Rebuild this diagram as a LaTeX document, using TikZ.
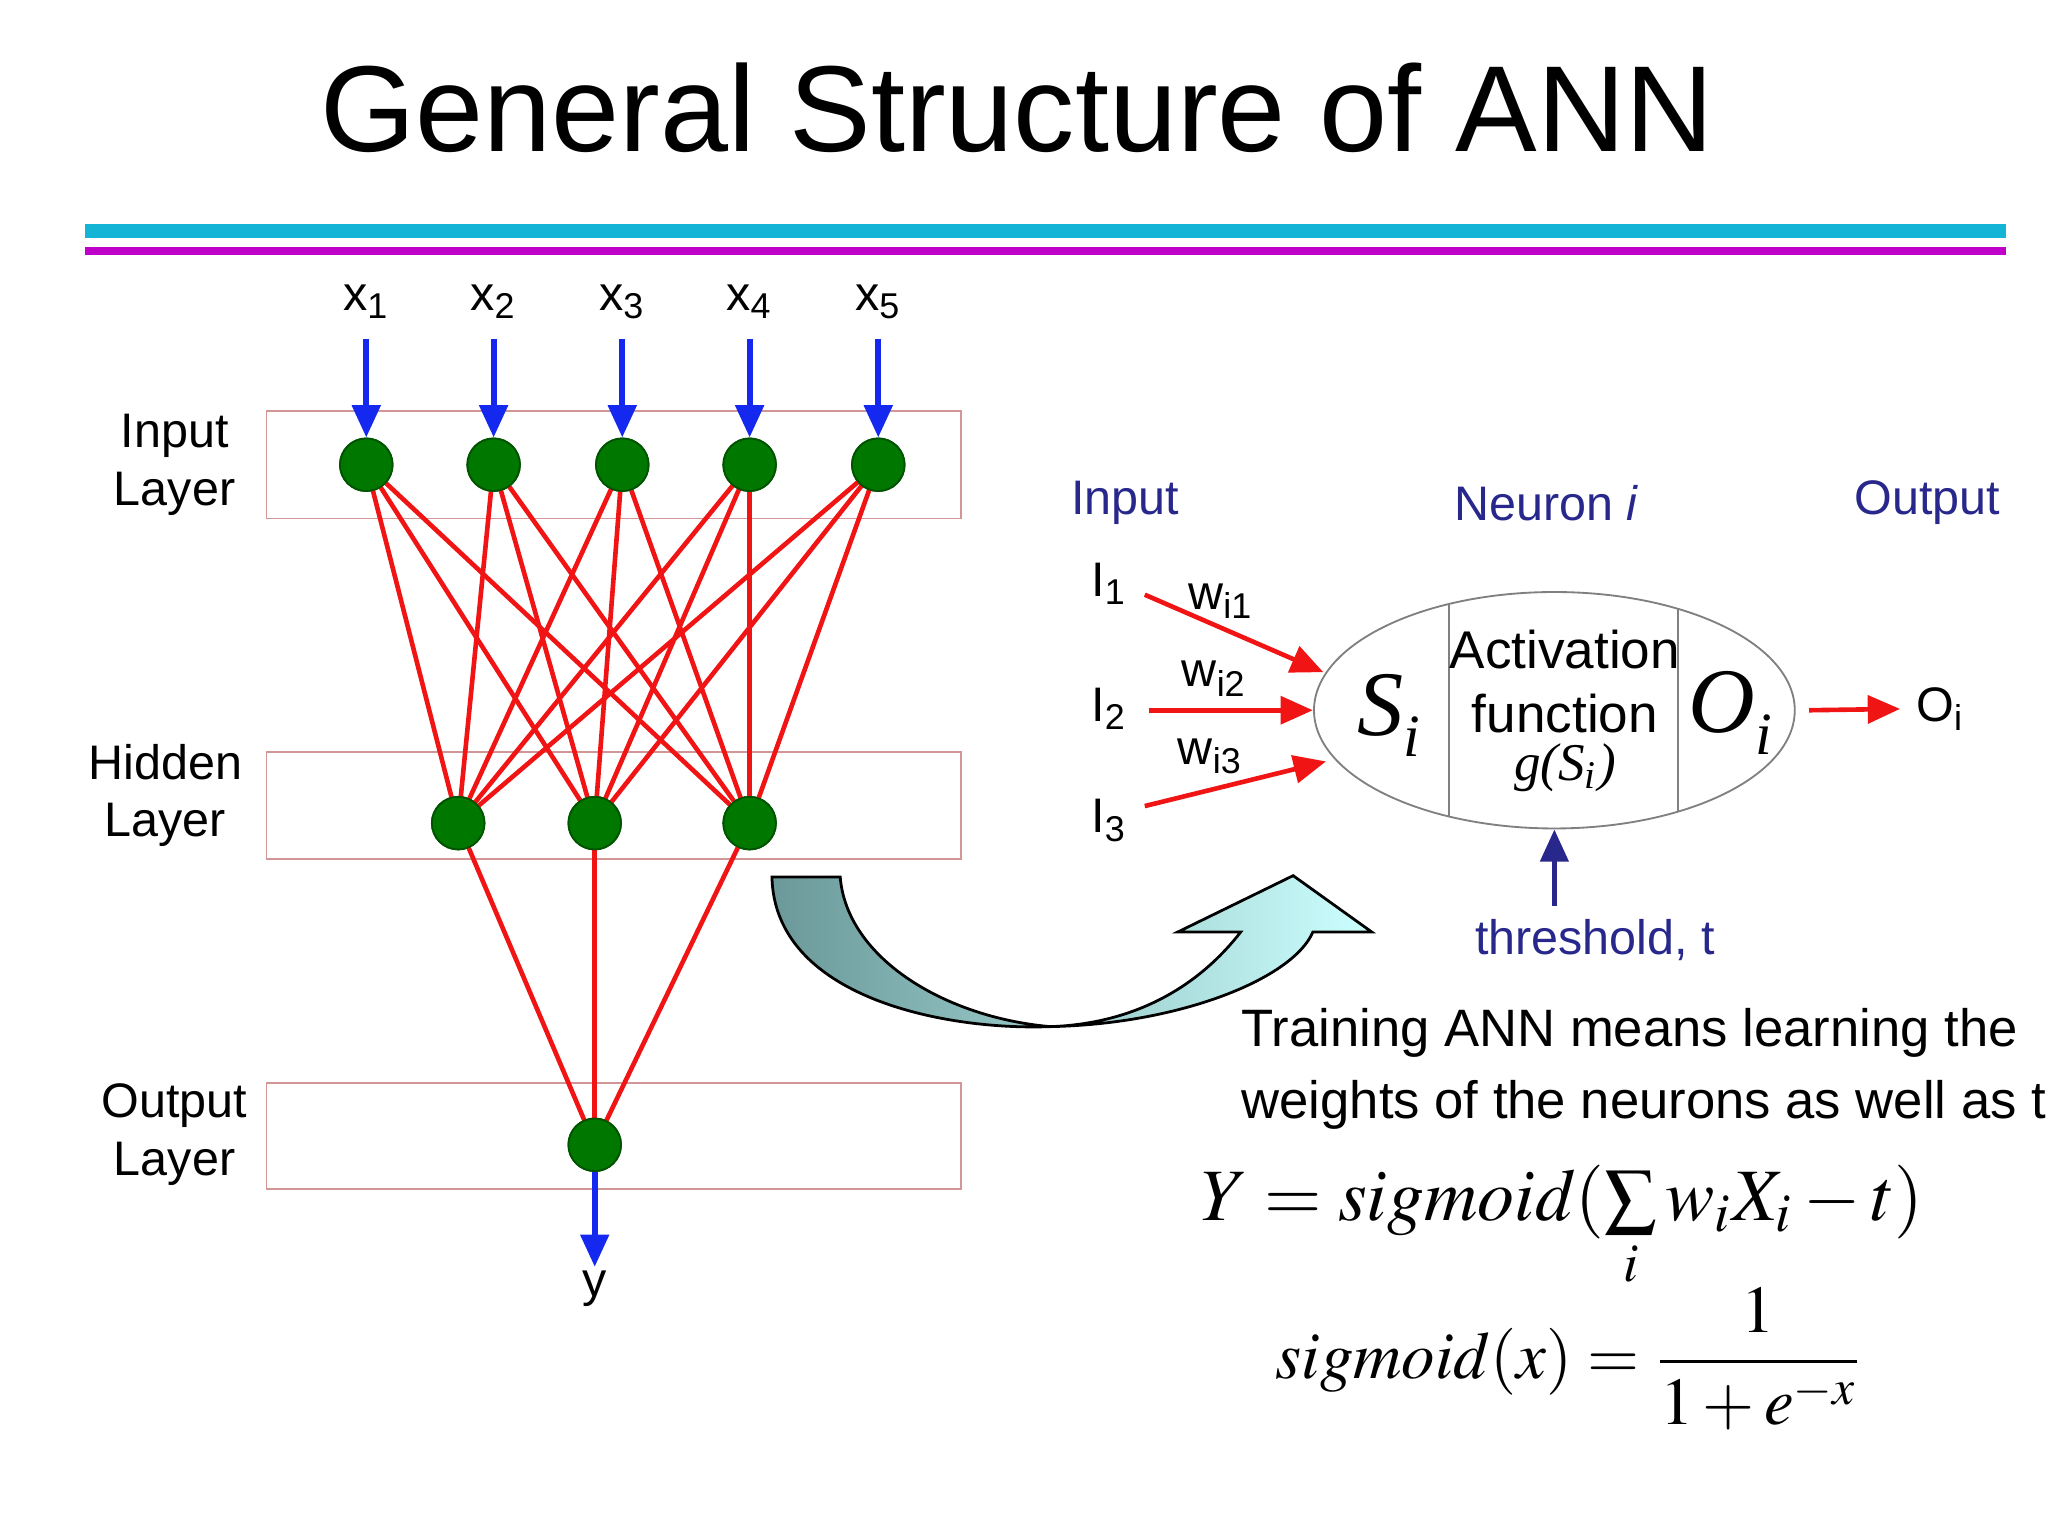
\documentclass[tikz,border=0pt]{standalone}
\usepackage{mathptmx}
\usepackage[no-math]{fontspec}
\setmainfont{Liberation Sans}
\newfontfamily\tnr{Liberation Serif}
\usetikzlibrary{arrows.meta,calc,positioning,shapes.geometric}
\definecolor{netred}{RGB}{240,20,20}
\definecolor{netblue}{RGB}{20,40,240}
\definecolor{netgreen}{RGB}{0,120,0}
\definecolor{navy}{RGB}{40,40,140}
\definecolor{boxline}{RGB}{210,150,150}
\definecolor{barcyan}{RGB}{20,180,215}
\definecolor{barmag}{RGB}{190,0,200}
\tikzset{
  unit/.style={circle,fill=netgreen,draw=netgreen!70!black,minimum size=0.4cm,inner sep=0pt},
  layer/.style={draw=boxline,line width=0.4pt},
  inarrow/.style={-{Triangle[length=7pt,width=6pt]},netblue,line width=1.3pt},
  wire/.style={netred,line width=1pt},
  redarrow/.style={-{Triangle[length=7pt,width=6pt]},netred,line width=1pt},
  lbl/.style={font=\fontsize{10.5}{12.5}\selectfont,align=center},
  blbl/.style={font=\fontsize{10.5}{12.5}\selectfont,text=navy}
}
\newcommand{\sub}[1]{\textsubscript{#1}}
\begin{document}
\begin{tikzpicture}[x=0.01cm,y=-0.01cm]
  \useasboundingbox (0,0) rectangle (1560,1170);
  \node (title) at (775,82) {\fontsize{26.5}{30}\selectfont General Structure of ANN};
  \fill[barcyan] (65,171) rectangle (1528,181);
  \fill[barmag] (65,188) rectangle (1528,194);

  % layers
  \draw[layer] (203,313) rectangle (732,395);
  \draw[layer] (203,573) rectangle (732,654);
  \draw[layer] (203,825) rectangle (732,906);
  \node[lbl] (linput) at (133,354) {Input\\Layer};
  \node[lbl] (lhidden) at (126,606) {Hidden\\Layer};
  \node[lbl] (loutput) at (133,864) {Output\\Layer};

  % units
  \foreach \x [count=\i] in {279,376,474,571,669} {
    \node[unit] (in\i) at (\x,354) {};
    \node[lbl] (x\i) at (\x,230) {x\sub{\i}};
    \coordinate (top\i) at (\x,258);
  }
  \foreach \x [count=\j] in {349,453,571}
    \node[unit] (hid\j) at (\x,627) {};
  \node[unit] (out) at (453,872) {};
  \node[lbl] (y) at (453,982) {y};
  \coordinate (ytip) at (453,965);

  \foreach \i in {1,...,5} {
    \draw[inarrow] (top\i) -- (in\i.north);
    \foreach \j in {1,2,3}
      \draw[wire] (in\i.center) -- (hid\j.center);
  }
  \foreach \j in {1,2,3}
    \draw[wire] (hid\j.center) -- (out.center);
  \draw[inarrow] (out.south) -- (ytip);
  \foreach \i in {1,...,5} \node[unit] at (in\i) {};
  \foreach \j in {1,2,3} \node[unit] at (hid\j) {};
  \node[unit] at (out) {};

  % big curved arrow
  \shade[left color=teal!45!gray!80,right color=cyan!20,draw=black,line width=0.6pt]
    (588,668) .. controls (590,760) and (720,785) .. (800,782)
    .. controls (900,780) and (985,745) .. (1000,710) -- (1045,710) -- (985,667)
    -- (897,710) -- (945,710) .. controls (910,755) and (860,780) .. (800,782)
    .. controls (720,775) and (645,730) .. (640,668) -- cycle;

  % neuron
  \node[ellipse,draw=gray,minimum width=3.66cm,minimum height=1.8cm] (neuron) at (1184,541) {};
  \begin{scope}
    \clip (1184,541) ellipse [x radius=183,y radius=90];
    \draw[gray] (1104,440) -- (1104,640);
    \draw[gray] (1278,440) -- (1278,640);
  \end{scope}
  \node (si) at (1058,545) {\fontsize{20}{22}\selectfont\tnr\itshape S\raisebox{-0.5ex}{\fontsize{13}{15}\selectfont i}};
  \node[lbl,font=\fontsize{11.5}{14}\selectfont] (act) at (1192,519) {Activation\\function};
  \node (gsi) at (1192,585) {\fontsize{11.5}{13}\selectfont\tnr\itshape g(S\textsubscript{i})};
  \node (oi) at (1318,543) {\fontsize{20}{22}\selectfont\tnr\itshape O\raisebox{-0.5ex}{\fontsize{13}{15}\selectfont i}};

  \node[blbl] (hin) at (857,383) {Input};
  \node[blbl] (hneu) at (1178,383) {Neuron \textit{i}};
  \node[blbl] (hout) at (1468,383) {Output};

  \node[lbl] (i1) at (845,445) {I\sub{1}};
  \node[lbl] (i2) at (845,540) {I\sub{2}};
  \node[lbl] (i3) at (845,625) {I\sub{3}};
  \coordinate (s1) at (872,453);
  \coordinate (s2) at (875,541);
  \coordinate (s3) at (872,614);
  \coordinate (e1) at (1008,512);
  \coordinate (e2) at (1000,541);
  \coordinate (e3) at (1010,580);
  \foreach \k in {1,2,3} \draw[redarrow] (s\k) -- (e\k);
  \node[lbl] (w1) at (930,458) {w\sub{i1}};
  \node[lbl] (w2) at (925,517) {w\sub{i2}};
  \node[lbl] (w3) at (922,576) {w\sub{i3}};

  \coordinate (os) at (1378,541);
  \node[lbl] (ol) at (1478,540) {O\sub{i}};
  \draw[redarrow] (os) -- (ol.west);

  \coordinate (ts) at (1184,690);
  \draw[-{Triangle[length=7pt,width=6pt]},navy,line width=1.2pt] (ts) -- (neuron.south);
  \node[blbl] (thr) at (1215,716) {threshold, t};

  \node[anchor=west,align=left,inner sep=0pt,font=\fontsize{11.4}{15.5}\selectfont] (train) at (945,814)
    {Training ANN means learning the\\weights of the neurons as well as t};

  \node (eq1) at (1190,935) {\fontsize{16}{19}\selectfont $Y = sigmoid(\sum\limits_i w_i X_i - t)$};
  \node (eq2) at (1195,1035) {\fontsize{14.5}{17}\selectfont $sigmoid(x) = \displaystyle\frac{1}{1+e^{-x}}$};
\end{tikzpicture}
\end{document}
